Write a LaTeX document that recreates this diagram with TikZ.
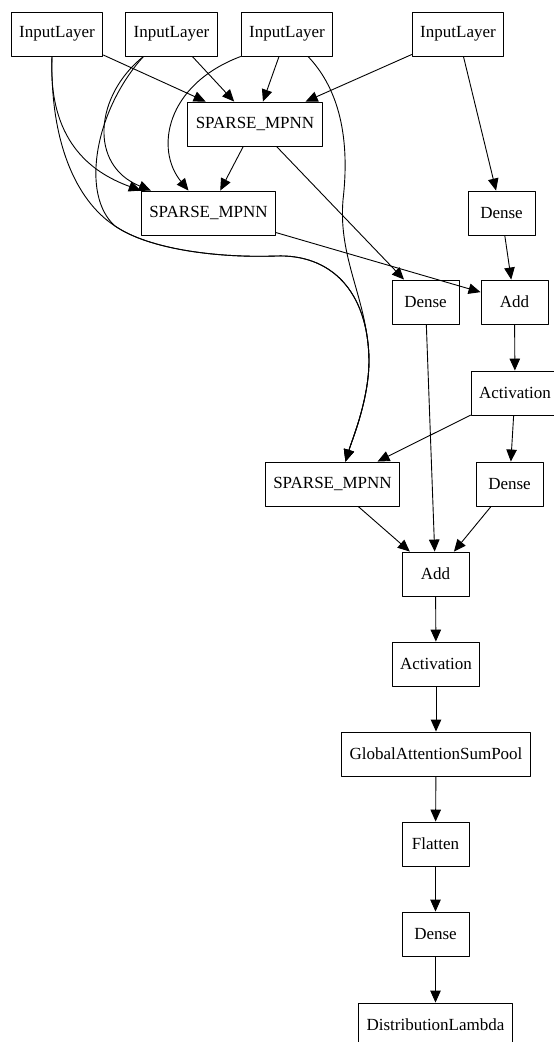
\documentclass[tikz,border=0pt]{standalone}
\usepackage{fontspec}
\setmainfont{Liberation Serif}
\usetikzlibrary{arrows.meta}
\begin{document}
\begin{tikzpicture}[x=1pt,y=-1pt,line join=round,>={Triangle[length=12pt,width=10.5pt]},
	layer/.style={draw,line width=0.9pt,minimum height=44pt,minimum width=67pt,inner xsep=8pt,inner ysep=0pt,font=\fontsize{17}{20}\selectfont},
	edge/.style={->,line width=0.9pt}]
	\useasboundingbox (0,0) rectangle (554,1042);
	\clip (0,0) rectangle (554,1042);
	\node[layer] (in1) at (57,34) {InputLayer};
	\node[layer] (in2) at (171.5,34) {InputLayer};
	\node[layer] (in3) at (287,34) {InputLayer};
	\node[layer] (in4) at (458,34) {InputLayer};
	\node[layer] (sp1) at (255,124) {SPARSE\_MPNN};
	\node[layer] (sp2) at (208.5,213) {SPARSE\_MPNN};
	\node[layer] (dense1) at (501.5,213) {Dense};
	\node[layer] (dense2) at (425.5,302) {Dense};
	\node[layer] (add1) at (514.5,302) {Add};
	\node[layer] (act1) at (515,393) {Activation};
	\node[layer] (sp3) at (332.5,484) {SPARSE\_MPNN};
	\node[layer] (dense3) at (509.5,484) {Dense};
	\node[layer] (add2) at (435.5,574) {Add};
	\node[layer] (act2) at (436,664) {Activation};
	\node[layer] (pool) at (436,754) {GlobalAttentionSumPool};
	\node[layer] (flat) at (435.5,844) {Flatten};
	\node[layer] (dense4) at (435.5,934) {Dense};
	\node[layer] (dist) at (435.5,1025) {DistributionLambda};
	\foreach \a/\b in {in1/sp1,in2/sp1,in3/sp1,in4/sp1,in4/dense1,sp1/sp2,sp1/dense2,sp2/add1,dense1/add1,add1/act1,act1/sp3,act1/dense3,dense2/add2,sp3/add2,dense3/add2,add2/act2,act2/pool,pool/flat,flat/dense4,dense4/dist}
	\draw[edge] (\a) -- (\b);
	\draw[edge] ([xshift=-5pt]in1.south) .. controls (48,140) and (90,172) .. (sp2.north west);
	\draw[edge] ([xshift=-28pt]in2.south) .. controls (95,95) and (88,165) .. ([xshift=10pt]sp2.north west);
	\draw[edge] (in3.south west) .. controls (165,85) and (155,150) .. ([xshift=-20pt]sp2.north);
	\draw[edge] ([xshift=-5pt]in1.south) .. controls (50,140) and (75,200) .. (115,226) .. controls (150,250) and (220,258) .. (276,256) .. controls (330,254) and (368,290) .. (369,360) .. controls (369,400) and (352,440) .. ([xshift=13pt]sp3.north);
	\draw[edge] ([xshift=-28pt]in2.south) .. controls (95,110) and (80,195) .. (115,226) .. controls (150,250) and (220,258) .. (276,256) .. controls (330,254) and (368,290) .. (369,360) .. controls (369,400) and (352,440) .. ([xshift=13pt]sp3.north);
	\draw[edge] ([xshift=21pt]in3.south) .. controls (340,90) and (350,140) .. (343,200) .. controls (338,260) and (368,300) .. (369,360) .. controls (369,400) and (352,440) .. ([xshift=13pt]sp3.north);
\end{tikzpicture}
\end{document}
